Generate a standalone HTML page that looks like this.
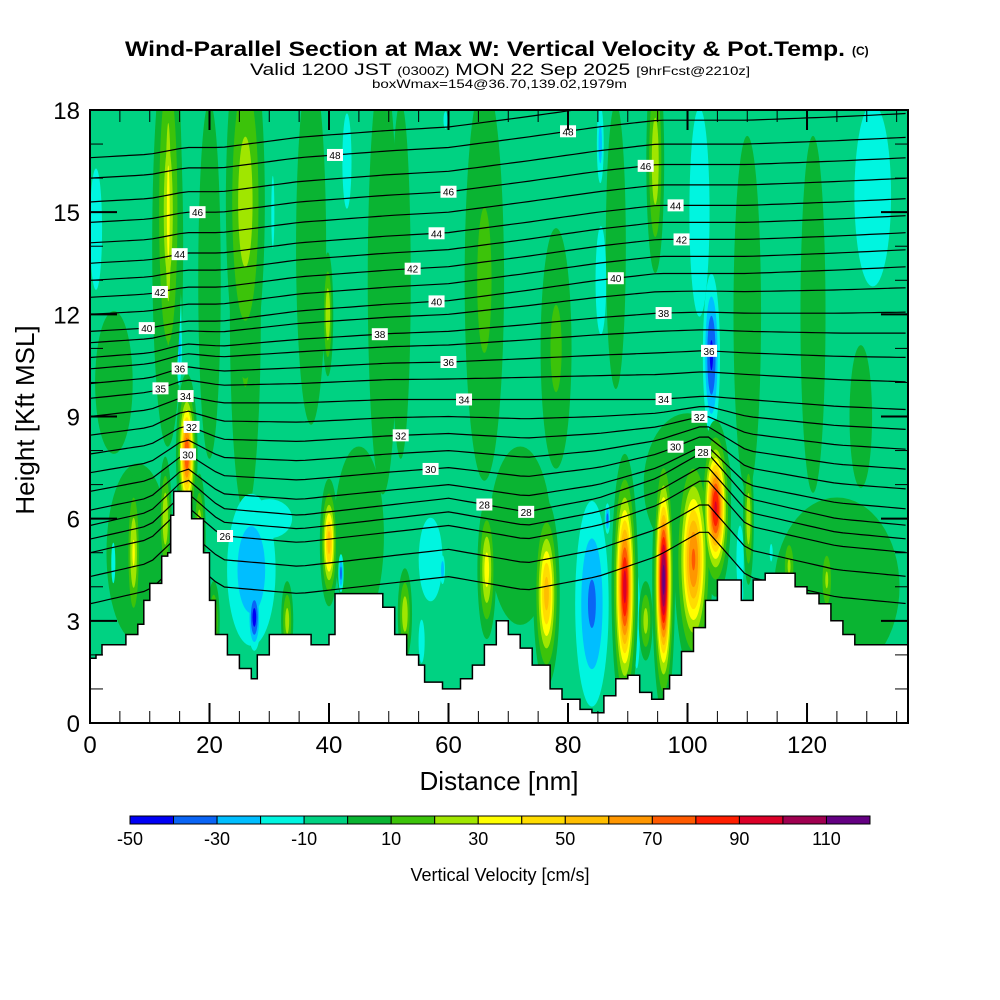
<!DOCTYPE html>
<html><head><meta charset="utf-8"><style>
html,body{margin:0;padding:0;background:#fff;}
svg{display:block;font-family:"Liberation Sans",Arial,sans-serif;}
</style></head><body>
<svg id="chart" width="1000" height="1000" viewBox="0 0 1000 1000" xmlns="http://www.w3.org/2000/svg">
<text x="125" y="56" font-size="21" font-weight="bold" textLength="720" lengthAdjust="spacingAndGlyphs">Wind-Parallel Section at Max W: Vertical Velocity &amp; Pot.Temp.</text>
<text x="852" y="55" font-size="12" font-weight="bold">(C)</text>
<text x="250" y="75" font-size="17" textLength="500" lengthAdjust="spacingAndGlyphs">Valid 1200 JST <tspan font-size="12">(0300Z)</tspan> MON 22 Sep 2025 <tspan font-size="12">[9hrFcst@2210z]</tspan></text>
<text x="372" y="88" font-size="12" textLength="255" lengthAdjust="spacingAndGlyphs">boxWmax=154@36.70,139.02,1979m</text>
<defs><clipPath id="plotclip"><rect x="90" y="110" width="818" height="613"/></clipPath></defs>
<g id="plot" clip-path="url(#plotclip)"></g>
<g id="axes"></g>
<text x="499" y="790" font-size="26" text-anchor="middle">Distance [nm]</text>
<text transform="translate(34,420) rotate(-90)" font-size="26" text-anchor="middle">Height [Kft MSL]</text>
<g id="cbar"></g>
<text x="500" y="881" font-size="18" text-anchor="middle">Vertical Velocity [cm/s]</text>
</svg>
<script>
// ---- data ----
const bandLows = [-50,-40,-30,-20,-10,0,10,20,30,40,50,60,70,80,90,100,110];
const bandColors = ["#0000f5","#0a64f5","#00beff","#00f5e0","#00d282","#0ab432","#3cc30a","#a0e600","#ffff00","#ffdc00","#ffbe00","#ff9600","#ff5a00","#ff1e00","#dc0028","#a00050","#640082"];
const cbarLabels = [-50,-30,-10,10,30,50,70,90,110];
// w features: distance (nm), height (kft), spread x (nm), spread y (kft), peak (cm/s)
const featD = [4,13,20,26,37,49,52,66,78,88,110,121,8,45,72,100,125,129,
  1,14.9,15,30.6,43,59.5,85.4,85.5,102,104,131,3.9,27,27.5,30,42,57,55.5,59,84,86.6,91.5,108.8,108.8,114,
  13.1,13.1,26,39.8,94.6,16.2,12.6,18.3,7.3,40,20.7,33,66.4,76.4,52.7,89.5,96,101,104.7,110.2,117,123.3,93];
const featH = [10,14,13,12,14,13,13,13,11,14,12,12,5,5.5,5.5,7,4,9,
  14.5,11.5,11,15,16.5,17.7,17,13,15,10.8,15.5,4.7,4.5,3.1,6,4.4,4.8,2.4,4.5,3.5,6,3,4.8,3.8,5,
  15,15,15.3,12,16.5,7.9,6,5.5,5,5.3,3,3,4.5,3.8,3.2,4,4.2,4.8,6.3,6,4.6,4.2,3];
const featSx = [3,2.2,1.8,2.2,2.4,2.4,1.6,2.8,2.2,1.6,2.2,2,5,4,5,7,10,1.8,
  1.6,0.7,0.4,0.6,1.2,0.8,0.6,1.4,2.2,1.2,4,0.8,4,0.9,6,0.4,2.6,0.8,0.4,2.6,0.4,0.9,0.8,0.5,0.6,
  1.6,0.6,2.2,0.6,1.0,1.0,0.7,0.7,0.8,0.9,0.7,0.7,1.0,1.3,0.8,1.2,1.0,1.8,1.4,0.6,0.8,0.8,0.8];
const featSy = [2,5,5,5,5,6,5,5,3,4,5,5,2.5,2.5,2.5,2,2.5,2,
  2.8,2.5,1,2.5,2.2,0.6,1.2,2.5,4,2.0,3.5,1.4,2.2,0.8,0.9,0.5,1.6,1,0.4,2.8,0.4,2.2,1.3,0.5,0.6,
  4,3.5,3.5,1.2,2.2,1.3,1.2,1.2,1.5,1.1,0.8,0.8,1.3,1.6,0.9,2.1,2.1,1.9,1.4,1.3,0.7,0.8,0.8];
const featV = [9,12,9,12,9,9,9,12,12,9,9,9,9,9,9,9,9,9,
  -15,-15,-25,-12,-15,-12,-25,-15,-18,-42,-18,-12,-28,-45,-15,-35,-18,-15,-30,-32,-35,-15,-18,-30,-12,
  25,35,27,30,28,80,30,30,32,55,25,25,35,55,28,95,115,72,92,28,22,22,25];
// terrain profile: distance (nm), height (kft)
const terrD = [0,1,2,5,6,8,9,10,12,13,13.5,14,16,17,19,20,21,23,25,27,28,30,32,35,37,40,41,48,49,51,53,55,56,59,62,64,66,68,70,72,74,77,79,82,84,86,88,90,92,94,96,97,99,101,103,105,108,109,111,113,116,118,120,122,124,126,128,135,137];
const terrH = [1.9,2.0,2.3,2.3,2.6,2.9,3.6,4.1,4.9,5.0,6.1,6.8,6.8,6.0,5.0,3.6,2.6,2.0,1.6,1.3,2.0,2.6,2.6,2.6,2.3,2.6,3.8,3.8,3.4,2.6,2.0,1.7,1.2,1.0,1.3,1.7,2.3,3.0,2.6,2.2,1.7,1.0,0.7,0.4,0.3,0.8,1.3,1.4,0.9,0.7,1.0,1.4,2.1,2.8,3.6,4.2,4.2,3.6,4.2,4.4,4.4,4.0,3.8,3.5,3.0,2.6,2.3,2.3,1.9];
// potential temperature contours
const thetaLevels = [24,25,26,27,28,29,30,31,32,33,34,35,36,37,38,39,40,41,42,43,44,45,46,47,48,49];
const thetaBaseH = [4.3,5.1,5.8,6.2,6.6,7.0,7.5,8.0,8.5,9.0,9.5,10.1,10.6,11.1,11.5,12.0,12.4,12.9,13.4,13.9,14.4,15.0,15.6,16.2,16.9,17.5];
const offNodesD = [0,10,16,22,35,50,60,73,85,95,103,110,125,137];
const upperOff = [-0.9,-0.8,-0.6,-0.6,-0.3,-0.1,0,0.3,0.6,0.8,0.8,0.8,0.9,1.0];
const midOff = [-0.5,-0.3,0.1,-0.1,-0.1,0,0,0,0,0,0.1,0,-0.2,-0.3];
const lowOff = [-0.8,-0.4,0.6,-0.3,-0.5,-0.2,0,-0.4,0,0.6,1.4,0.0,-0.6,-0.8];
const labelLevel = [26,28,28,28,30,30,30,32,32,32,34,34,34,36,36,36,35,38,38,40,40,40,42,42,42,44,44,44,46,46,46,48,48];
const labelD = [22.6,66,73,102.6,16.4,57,98,17,52,102,16,62.6,96,15,60,103.6,11.8,48.5,96,9.5,58,88,11.7,54,99,15,58,98,18,60,93,41,80];
const xTicks = [0,20,40,60,80,100,120];
const yTicks = [0,3,6,9,12,15,18];

// ---- scales ----
const X0=90,X1=908,Y0=723,Y1=110,DMAX=136.9,HMAX=18;
const xs = d => X0 + d*(X1-X0)/DMAX;
const ys = h => Y0 - h*(Y0-Y1)/HMAX;
const NS="http://www.w3.org/2000/svg";
function mk(tag, attrs, parent){const e=document.createElementNS(NS,tag);for(const k in attrs)e.setAttribute(k,attrs[k]);parent.appendChild(e);return e;}
function bandColor(low){return bandColors[bandLows.indexOf(low)];}

const plot=document.getElementById('plot');
const bg=mk('rect',{x:X0,y:Y1,width:X1-X0,height:Y0-Y1,fill:bandColor(-10)},plot);



function drawFeatures(filter, negative){
  const g=mk('g',{},plot);
  
  
  const levels=[];
  if(negative){for(let t=-10;t>=-50;t-=10)levels.push(t);}
  else{for(let t=0;t<=110;t+=10)levels.push(t);}
  levels.forEach(t=>{
    for(let i=0;i<featV.length;i++){
      const v=featV[i]; if(!filter(v)) continue;
      let r=null, col=null;
      if(v>0 && t<v){ const tt=Math.max(t,3); r=Math.sqrt(Math.log(v/tt)); col=bandColor(t); }
      if(v<0 && t>v){ r=Math.sqrt(Math.log(v/t)); col=bandColor(t-10); }
      if(r===null||!col) continue;
      const e=mk('ellipse',{cx:xs(featD[i]),cy:ys(featH[i]),rx:Math.abs(xs(featSx[i]*r)-xs(0)),ry:Math.abs(ys(0)-ys(featSy[i]*r)),fill:col},g);
      
      
    }
  });
}
drawFeatures(v=>v>0&&v<20,false);
drawFeatures(v=>v<0,true);
drawFeatures(v=>v>=20,false);

// theta contours
function interp(arr,d){
  for(let i=0;i<offNodesD.length-1;i++){
    if(d<=offNodesD[i+1]){const f=(d-offNodesD[i])/(offNodesD[i+1]-offNodesD[i]);return arr[i]+f*(arr[i+1]-arr[i]);}
  }
  return arr[arr.length-1];
}
function thetaH(L,d){
  const base=thetaBaseH[thetaLevels.indexOf(L)];
  const lo=interp(lowOff,d),mi=interp(midOff,d),up=interp(upperOff,d);
  let off;
  if(L<=28) off=lo; else if(L<=34) off=lo+(mi-lo)*(L-28)/6; else if(L<=40) off=mi+(up-mi)*(L-34)/6; else off=up;
  return base+off;
}
const cg=mk('g',{fill:'none',stroke:'#000','stroke-width':1.2},plot);


thetaLevels.forEach(L=>{
  let p='';
  for(let d=0;d<=DMAX+1;d+=1.5){p+=(p?'L':'M')+xs(d).toFixed(1)+','+ys(thetaH(L,d)).toFixed(1);}
  const e=mk('path',{d:p},cg);
  
  
});

// terrain
let tp='M'+xs(0)+','+ys(0);
for(let i=0;i<terrD.length;i++){
  tp+='L'+xs(terrD[i]).toFixed(1)+','+ys(i>0?terrH[i-1]:terrH[0]).toFixed(1);
  tp+='L'+xs(terrD[i]).toFixed(1)+','+ys(terrH[i]).toFixed(1);
}
tp+='L'+xs(DMAX+1)+','+ys(terrH[terrH.length-1])+'L'+xs(DMAX+1)+','+ys(0)+'Z';
const terr=mk('path',{d:tp,fill:'#fff',stroke:'#000','stroke-width':1.5},plot);



// contour labels
const lg=mk('g',{},plot);


labelLevel.forEach((L,i)=>{
  const x=xs(labelD[i]),y=ys(thetaH(L,labelD[i]));
  const r=mk('rect',{x:x-8,y:y-6,width:16,height:12,fill:'#fff'},lg);
  
  
  const t=mk('text',{x:x,y:y+4,'font-size':10,'text-anchor':'middle'},lg);
  
  
  t.textContent=L;
});

// axes
const ax=document.getElementById('axes');
const frame=mk('rect',{x:X0,y:Y1,width:X1-X0,height:Y0-Y1,fill:'none',stroke:'#000','stroke-width':2},ax);


for(let d=0;d<=DMAX;d+=5){
  const major=d%20===0, len=major?20:12, x=xs(d);
  const t1=mk('line',{x1:x,y1:Y0,x2:x,y2:Y0-len,stroke:'#000','stroke-width':major?2:1},ax);
  
  
  const t2=mk('line',{x1:x,y1:Y1,x2:x,y2:Y1+len,stroke:'#000','stroke-width':major?2:1},ax);
  
  
}
for(let h=0;h<=18;h+=1){
  const major=h%3===0, len=major?27:13, y=ys(h);
  const t1=mk('line',{x1:X0,y1:y,x2:X0+len,y2:y,stroke:'#000','stroke-width':major?2:1},ax);
  
  
  const t2=mk('line',{x1:X1,y1:y,x2:X1-len,y2:y,stroke:'#000','stroke-width':major?2:1},ax);
  
  
}
xTicks.forEach(v=>{
  const t=mk('text',{x:xs(v),y:753,'font-size':24,'text-anchor':'middle'},ax);
  
  
  t.textContent=v;
});
yTicks.forEach(v=>{
  const t=mk('text',{x:80,y:ys(v)+9,'font-size':24,'text-anchor':'end'},ax);
  
  
  t.textContent=v;
});

// colorbar
const cb=document.getElementById('cbar');
const cw=740/bandLows.length;
bandLows.forEach((b,i)=>{
  const r=mk('rect',{x:130+i*cw,y:816,width:cw,height:8,fill:bandColors[i],stroke:'#000','stroke-width':1},cb);
  
  
});
cbarLabels.forEach(v=>{
  const t=mk('text',{x:130+(v+50)/10*cw,y:845,'font-size':18,'text-anchor':'middle'},cb);
  
  
  t.textContent=v;
});
</script>
</body></html>
